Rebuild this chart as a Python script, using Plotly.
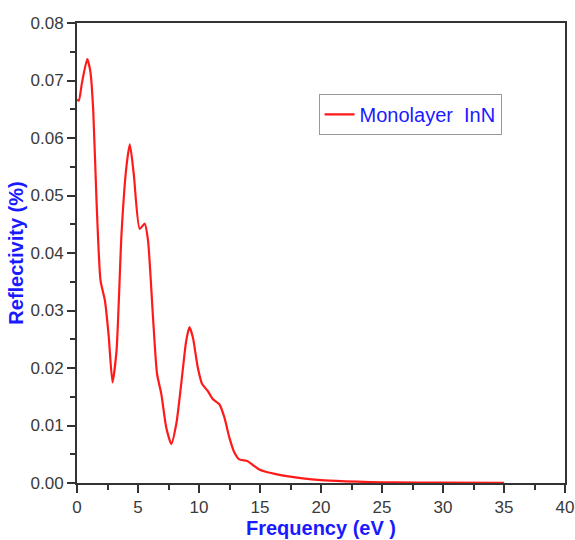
import plotly.graph_objects as go

frequency = [0.0, 0.15, 0.4, 0.84, 1.1, 1.33, 1.6, 1.93, 2.29, 2.6, 2.91, 3.24, 3.65, 4.05, 4.33,
             4.65, 5.14, 5.55, 5.82, 6.23, 6.56, 6.91, 7.32, 7.73, 8.14, 8.54, 8.95, 9.22,
             9.5, 9.9, 10.26, 10.72, 11.13, 11.67, 12.08, 12.49, 12.9, 13.3, 13.99, 14.5,
             14.9, 15.4, 16.2, 17.2, 18.5, 20.0, 22.0, 24.0, 26.0, 30.0, 35.0]
reflectivity = [0.0667, 0.0665, 0.0695, 0.0737, 0.0715, 0.0648, 0.0491, 0.0352, 0.0317, 0.0255, 0.0175,
                0.0230, 0.0434, 0.0550, 0.0589, 0.0538, 0.0442, 0.0451, 0.0422, 0.0288,
                0.0190, 0.0155, 0.0096, 0.0068, 0.0103, 0.0172, 0.0247, 0.0271, 0.0253,
                0.0201, 0.0172, 0.0160, 0.0146, 0.0137, 0.0114, 0.0079, 0.0053, 0.0041,
                0.0038, 0.0030, 0.0024, 0.0020, 0.0016, 0.0012, 0.0008, 0.0005, 0.0003,
                0.00016, 0.0001, 0.00005, 0.00003]

x_ticks = [0, 5, 10, 15, 20, 25, 30, 35, 40]
y_ticks = [0.00, 0.01, 0.02, 0.03, 0.04, 0.05, 0.06, 0.07, 0.08]

FONT = "Liberation Sans, Arial, sans-serif"

fig = go.Figure()
fig.add_trace(go.Scatter(
    x=frequency, y=reflectivity, mode="lines", name="Monolayer  InN",
    line=dict(color="#ff1a1a", width=2.2, shape="spline", smoothing=0.6),
))

axis_common = dict(
    showline=True, linecolor="#333333", linewidth=2, mirror=True,
    ticks="outside", ticklen=8, tickwidth=1.5, tickcolor="#333333",
    showgrid=False, zeroline=False, automargin=False,
    tickfont=dict(family=FONT, size=17, color="#3a3a3a"),
)

fig.update_xaxes(
    range=[0, 40], tickvals=x_ticks, ticktext=[str(v) for v in x_ticks],
    minor=dict(dtick=2.5, ticks="outside", ticklen=5, tickwidth=1.5, tickcolor="#333333"),
    title=dict(text="<b>Frequency (eV )</b>", standoff=4,
               font=dict(family=FONT, size=20, color="#1a1aff")),
    **axis_common,
)
fig.update_yaxes(
    range=[0, 0.08], tickvals=y_ticks, ticktext=[f"{v:.2f}" for v in y_ticks],
    minor=dict(dtick=0.005, ticks="outside", ticklen=5, tickwidth=1.5, tickcolor="#333333"),
    title=dict(text="<b>Reflectivity (%)</b>", standoff=2,
               font=dict(family=FONT, size=20, color="#1a1aff")),
    **axis_common,
)

fig.update_layout(
    width=575, height=540,
    margin=dict(l=77, r=10, t=23, b=57),
    paper_bgcolor="white", plot_bgcolor="white",
    showlegend=True,
    legend=dict(
        x=0.495, y=0.846, xanchor="left", yanchor="top",
        bordercolor="#999999", borderwidth=1, bgcolor="white",
        font=dict(family=FONT, size=20, color="#1a1aff"),
        tracegroupgap=0,
    ),
)

fig.write_html(
    "out.html",
    config={"displayModeBar": False},
    post_script="document.body.style.margin='0';document.body.style.overflow='hidden';",
)
